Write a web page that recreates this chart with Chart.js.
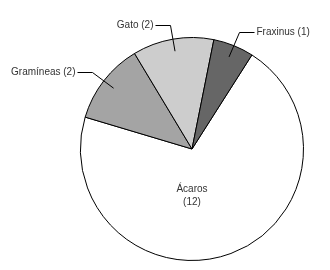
<!DOCTYPE html>
<html>
<head>
<meta charset="utf-8">
<title>Alérgenos</title>
<script src="https://cdn.jsdelivr.net/npm/chart.js"></script>
<style>
  html, body { margin: 0; padding: 0; background: #fff; }
  #wrap { width: 330px; height: 270px; }
</style>
</head>
<body>
<div id="wrap"><canvas id="pie"></canvas></div>
<script>
    // data
    const labels = ['Ácaros', 'Gramíneas', 'Gato', 'Fraxinus'];
    const counts = [12, 2, 2, 1];
    const sliceColors = ['#ffffff', '#a4a4a4', '#cdcdcd', '#666666'];

    // labels with leader lines, big slice labelled inside
    const pieLabels = {
        id: 'pieLabels',
        afterDatasetsDraw(chart) {
            const ctx = chart.ctx;
            const arcs = chart.getDatasetMeta(0).data;
            const total = counts.reduce((a, b) => a + b, 0);
            ctx.save();
            ctx.font = '10px "Liberation Sans", Arial, sans-serif';
            ctx.fillStyle = '#333';
            ctx.strokeStyle = '#000';
            ctx.lineWidth = 1;
            ctx.textBaseline = 'middle';
            arcs.forEach((arc, i) => {
                const cx = arc.x, cy = arc.y, R = arc.outerRadius;
                const text = labels[i] + ' (' + counts[i] + ')';
                if (counts[i] / total > 0.5) {
                    ctx.textAlign = 'center';
                    const y = cy + R * 0.42;
                    ctx.fillText(labels[i], cx, y - 6.5);
                    ctx.fillText('(' + counts[i] + ')', cx, y + 6.5);
                    return;
                }
                const mid = (arc.startAngle + arc.endAngle) / 2;
                const x1 = cx + Math.cos(mid) * R * 0.89;
                const y1 = cy + Math.sin(mid) * R * 0.89;
                const x2 = Math.round(cx + Math.cos(mid) * R * 1.13) + 0.5;
                const y2 = Math.round(cy + Math.sin(mid) * R * 1.13) + 0.5;
                const dir = x2 < cx ? -1 : 1;
                const x3 = x2 + dir * 15;
                ctx.beginPath();
                ctx.moveTo(x1, y1);
                ctx.lineTo(x2, y2);
                ctx.lineTo(x3, y2);
                ctx.stroke();
                ctx.textAlign = dir < 0 ? 'right' : 'left';
                ctx.fillText(text, x3 + dir * 2, y2);
            });
            ctx.restore();
        }
    };

    new Chart(document.getElementById('pie'), {
        type: 'pie',
        data: {
            labels: labels,
            datasets: [{
                data: counts,
                backgroundColor: sliceColors,
                borderColor: '#000',
                borderWidth: 1
            }]
        },
        options: {
            responsive: true,
            maintainAspectRatio: false,
            animation: false,
            rotation: 32.5,
            layout: { padding: { left: 80, right: 26, top: 37, bottom: 9 } },
            plugins: {
                legend: { display: false },
                tooltip: { enabled: false }
            }
        },
        plugins: [pieLabels]
    });
</script>
</body>
</html>
